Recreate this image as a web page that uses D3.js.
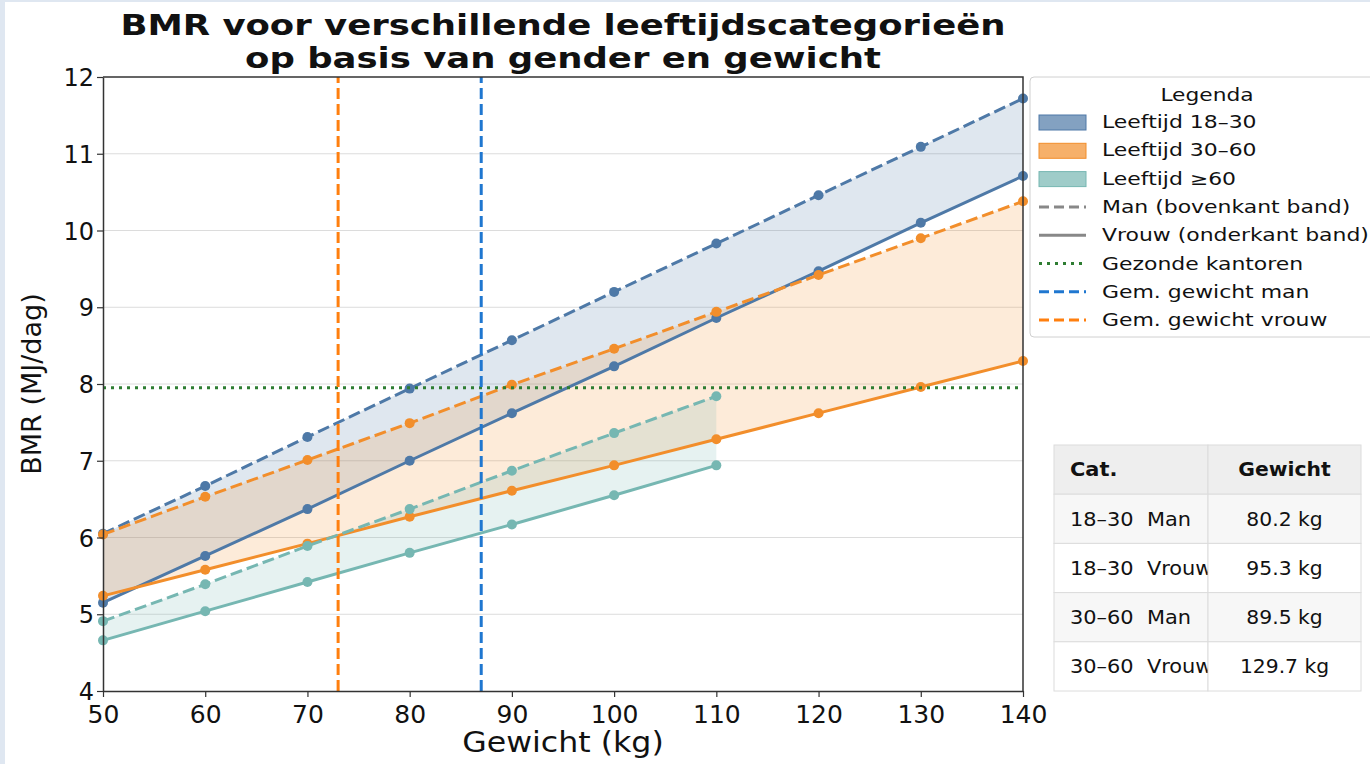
<!DOCTYPE html>
<html>
<head>
<meta charset="utf-8">
<script src="https://cdn.jsdelivr.net/npm/d3@7"></script>
<style>
  body { margin: 0; background: #dfe7f1; }
  svg { display: block; }
  text { font-family: "DejaVu Sans", sans-serif; white-space: pre; }
</style>
</head>
<body>
<script>
'use strict'

// gewicht in kg
const weights = [50, 60, 70, 80, 90, 100, 110, 120, 130, 140];
const weightsOld = [50, 60, 70, 80, 90, 100, 110];

// BMR in MJ/dag, bovenkant = man, onderkant = vrouw
const man1830 = [6.05, 6.67, 7.31, 7.94, 8.57, 9.20, 9.83, 10.46, 11.09, 11.72];
const vrouw1830 = [5.15, 5.76, 6.37, 7.00, 7.62, 8.23, 8.86, 9.47, 10.10, 10.71];
const man3060 = [6.04, 6.53, 7.01, 7.49, 7.99, 8.46, 8.94, 9.42, 9.90, 10.38];
const vrouw3060 = [5.24, 5.58, 5.92, 6.27, 6.61, 6.94, 7.28, 7.62, 7.96, 8.30];
const man60 = [4.91, 5.39, 5.89, 6.37, 6.87, 7.36, 7.84];
const vrouw60 = [4.66, 5.04, 5.42, 5.80, 6.17, 6.55, 6.94];

const gezondeKantoren = 7.95;
const gemGewichtMan = 87.0;
const gemGewichtVrouw = 73.0;

const xTicks = [50, 60, 70, 80, 90, 100, 110, 120, 130, 140];
const yTicks = [4, 5, 6, 7, 8, 9, 10, 11, 12];

const tableHead = ['Cat.', 'Gewicht'];
const tableCats = ['18–30  Man', '18–30  Vrouw', '30–60  Man', '30–60  Vrouw'];
const tableWeights = ['80.2 kg', '95.3 kg', '89.5 kg', '129.7 kg'];

const legendLabels = ['Leeftijd 18–30', 'Leeftijd 30–60', 'Leeftijd ≥60',
  'Man (bovenkant band)', 'Vrouw (onderkant band)', 'Gezonde kantoren',
  'Gem. gewicht man', 'Gem. gewicht vrouw'];

const blue = '#4e79a7', orange = '#f28e2b', teal = '#76b7b2';

// zet x/y om in een transform zodat de tekst horizontaal breder wordt
function stretch(sel, sx) {
  sel.each(function () {
    const t = d3.select(this);
    const px = +t.attr('x') || 0, py = +t.attr('y') || 0;
    t.attr('x', 0).attr('y', 0)
      .attr('transform', 'translate(' + px + ',' + py + ') scale(' + sx + ',1)');
  });
}

window.onload = function () {
  const W = 1370, H = 764;
  const margin = {top: 77, left: 103, right: W - 1023, bottom: H - 691};

  const svg = d3.select('body').append('svg')
    .attr('width', W).attr('height', H);

  svg.append('rect')
    .attr('x', 5).attr('y', 2).attr('width', W - 5).attr('height', H - 2)
    .attr('fill', '#fff');

  const x = d3.scaleLinear().domain([50, 140]).range([margin.left, W - margin.right]);
  const y = d3.scaleLinear().domain([4, 12]).range([H - margin.bottom, margin.top]);

  // grid
  svg.append('g').selectAll('line')
    .data(yTicks.slice(1, -1))
    .enter().append('line')
    .attr('x1', x(50)).attr('x2', x(140))
    .attr('y1', d => y(d)).attr('y2', d => y(d))
    .attr('stroke', '#dcdcdc').attr('stroke-width', 1);

  const groups = [
    {w: weights, up: man1830, lo: vrouw1830, c: blue},
    {w: weights, up: man3060, lo: vrouw3060, c: orange},
    {w: weightsOld, up: man60, lo: vrouw60, c: teal}
  ];

  const area = d3.area()
    .x(d => x(d.w)).y0(d => y(d.lo)).y1(d => y(d.up));
  const line = d3.line().x(d => x(d[0])).y(d => y(d[1]));

  const fills = svg.append('g');
  const lines = svg.append('g');

  groups.forEach(g => {
    const rows = g.w.map((w, i) => ({w: w, up: g.up[i], lo: g.lo[i]}));
    fills.append('path')
      .attr('d', area(rows))
      .attr('fill', g.c).attr('fill-opacity', 0.18);

    [[g.up, '12,5'], [g.lo, null]].forEach(([vals, dash]) => {
      const pts = g.w.map((w, i) => [w, vals[i]]);
      lines.append('path')
        .attr('d', line(pts))
        .attr('fill', 'none')
        .attr('stroke', g.c)
        .attr('stroke-width', 3)
        .attr('stroke-dasharray', dash);
      lines.append('g').selectAll('circle')
        .data(pts).enter().append('circle')
        .attr('cx', d => x(d[0])).attr('cy', d => y(d[1]))
        .attr('r', 5).attr('fill', g.c);
    });
  });

  // referentielijnen
  svg.append('line')
    .attr('x1', x(50)).attr('x2', x(140))
    .attr('y1', y(gezondeKantoren)).attr('y2', y(gezondeKantoren))
    .attr('stroke', '#2e7d32').attr('stroke-width', 3)
    .attr('stroke-dasharray', '3,5');

  [[gemGewichtMan, '#1f77d0'], [gemGewichtVrouw, '#ff7f0e']].forEach(([v, c]) => {
    svg.append('line')
      .attr('x1', x(v)).attr('x2', x(v))
      .attr('y1', y(4)).attr('y2', y(12))
      .attr('stroke', c).attr('stroke-width', 3)
      .attr('stroke-dasharray', '11,5');
  });

  // axes
  const xAxis = svg.append('g')
    .attr('transform', 'translate(0,' + y(4) + ')')
    .call(d3.axisBottom(x).tickValues(xTicks).tickSize(6).tickSizeOuter(0));
  const yAxis = svg.append('g')
    .attr('transform', 'translate(' + x(50) + ',0)')
    .call(d3.axisLeft(y).tickValues(yTicks).tickSize(6).tickSizeOuter(0));

  [xAxis, yAxis].forEach(a => {
    a.select('.domain').attr('stroke', '#333').attr('stroke-width', 1.5);
    a.selectAll('.tick line').attr('stroke', '#333').attr('stroke-width', 1.2);
    a.selectAll('.tick text').attr('font-size', 24).attr('fill', '#111')
      .attr('font-family', '"DejaVu Sans", sans-serif');
  });
  xAxis.selectAll('.tick text').attr('font-size', 25).attr('dy', '0.9em');
  yAxis.selectAll('.tick text').attr('dy', '0.36em');

  // top + right spine
  svg.append('path')
    .attr('d', 'M' + x(50) + ',' + y(12) + 'H' + x(140) + 'V' + y(4))
    .attr('fill', 'none').attr('stroke', '#333').attr('stroke-width', 1.5);

  svg.append('text')
    .attr('x', (x(50) + x(140)) / 2).attr('y', 752)
    .attr('text-anchor', 'middle').attr('font-size', 28).attr('fill', '#111')
    .text('Gewicht (kg)')
    .call(stretch, 1.13);

  svg.append('text')
    .attr('transform', 'translate(41,' + (y(8)) + ') rotate(-90)')
    .attr('text-anchor', 'middle').attr('font-size', 27).attr('fill', '#111')
    .text('BMR (MJ/dag)');

  const cx = (x(50) + x(140)) / 2;
  [['BMR voor verschillende leeftijdscategorieën', 35],
   ['op basis van gender en gewicht', 68]].forEach(([s, yy]) => {
    svg.append('text')
      .attr('x', cx).attr('y', yy)
      .attr('text-anchor', 'middle').attr('font-size', 27.5).attr('font-weight', 'bold')
      .attr('fill', '#111').text(s)
      .call(stretch, 1.29);
  });

  // legend
  const leg = svg.append('g').attr('transform', 'translate(1030,77)');
  leg.append('rect')
    .attr('width', 350).attr('height', 260).attr('rx', 4)
    .attr('fill', '#fff').attr('stroke', '#d0d0d0');
  leg.append('text')
    .attr('x', 177).attr('y', 24).attr('text-anchor', 'middle')
    .attr('font-size', 17).attr('fill', '#111').text('Legenda')
    .call(stretch, 1.28);

  const items = leg.selectAll('g.item')
    .data(legendLabels).enter().append('g')
    .attr('transform', (d, i) => 'translate(0,' + (45 + i * 28.3) + ')');

  const patchCols = [blue, orange, teal];
  const lineStyles = [['#888', '10,5'], ['#888', null], ['#2e7d32', '3,5'],
    ['#1f77d0', '10,5'], ['#ff7f0e', '10,5']];

  items.each(function (d, i) {
    const g = d3.select(this);
    if (i < 3) {
      g.append('rect').attr('x', 9).attr('y', -7).attr('width', 47).attr('height', 15)
        .attr('fill', patchCols[i]).attr('fill-opacity', 0.7)
        .attr('stroke', patchCols[i]);
    } else {
      const s = lineStyles[i - 3];
      g.append('line').attr('x1', 9).attr('x2', 56).attr('y1', 0).attr('y2', 0)
        .attr('stroke', s[0]).attr('stroke-width', 3).attr('stroke-dasharray', s[1]);
    }
    g.append('text').attr('x', 72).attr('y', 0).attr('dy', '0.36em')
      .attr('font-size', 17).attr('fill', '#111').text(d)
      .call(stretch, 1.29);
  });

  // tabel
  const tx = 1054, ty = 445, colW = [154, 153], rowH = 49.2;
  const tab = svg.append('g');
  const clip = svg.append('defs').append('clipPath').attr('id', 'col0');
  clip.append('rect').attr('x', tx).attr('y', ty).attr('width', colW[0]).attr('height', rowH * 5);

  const rows = [tableHead].concat(tableCats.map((c, i) => [c, tableWeights[i]]));
  const rowFill = ['#eeeeee', '#f7f7f7', '#ffffff', '#f7f7f7', '#ffffff'];

  rows.forEach((r, ri) => {
    const yy = ty + ri * rowH;
    r.forEach((cell, ci) => {
      const xx = tx + (ci === 0 ? 0 : colW[0]);
      tab.append('rect')
        .attr('x', xx).attr('y', yy).attr('width', colW[ci]).attr('height', rowH)
        .attr('fill', rowFill[ri]).attr('stroke', '#dcdcdc');
      const cellG = tab.append('g');
      if (ci === 0) cellG.attr('clip-path', 'url(#col0)');
      const t = cellG.append('text')
        .attr('y', yy + rowH / 2).attr('dy', '0.36em')
        .attr('font-size', 19).attr('fill', '#111')
        .attr('font-weight', ri === 0 ? 'bold' : 'normal')
        .text(cell);
      if (ci === 0) {
        t.attr('x', xx + 16);
      } else {
        t.attr('x', xx + colW[1] / 2).attr('text-anchor', 'middle');
      }
      t.call(stretch, ci === 0 ? 1.1 : 1.07);
    });
  });
};
</script>
</body>
</html>
